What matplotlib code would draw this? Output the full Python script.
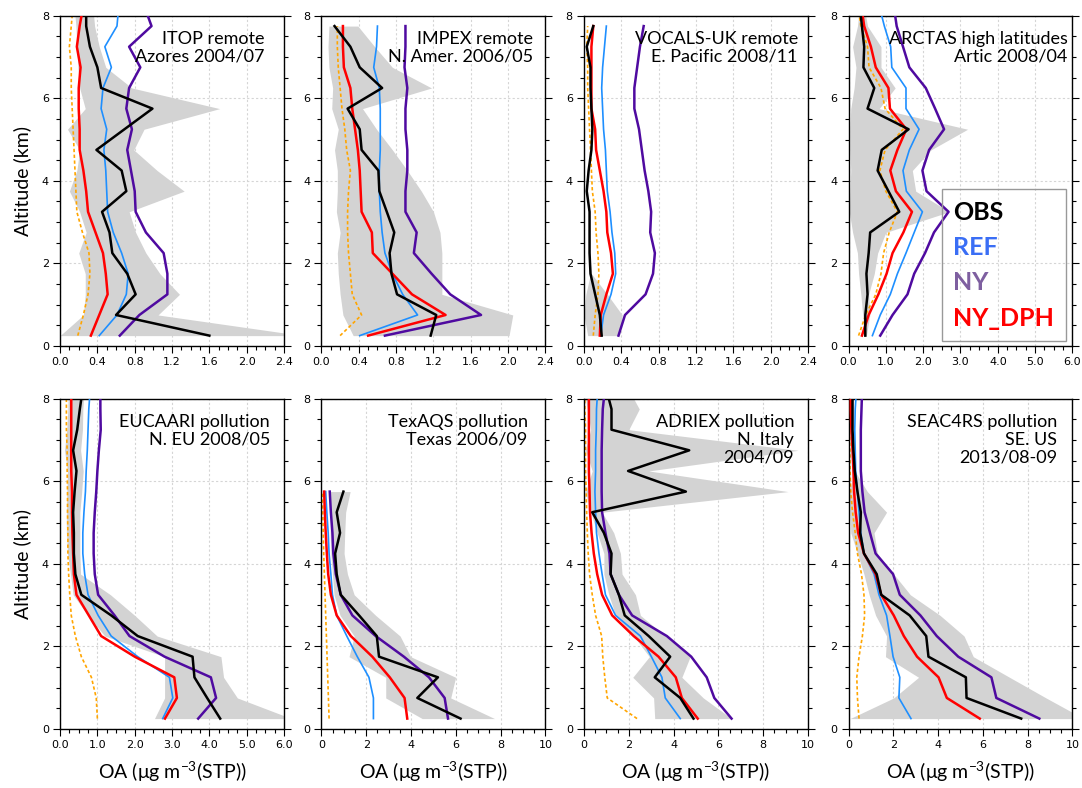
"""OA vertical profiles: observations vs. model runs for 8 field campaigns."""

import matplotlib
matplotlib.use("Agg")
import matplotlib.pyplot as plt
from matplotlib.patches import Rectangle
from matplotlib.ticker import MultipleLocator, FormatStrFormatter

plt.rcParams.update({"font.family": ["DejaVu Sans"], "font.size": 8,
                     "mathtext.fontset": "custom", "mathtext.rm": "Lato",
                     "mathtext.it": "Lato:italic", "mathtext.bf": "Lato:bold",
                     "mathtext.default": "regular"})
LABEL_FONT = ["Lato", "DejaVu Sans"]

# altitude bin centres (km)
ALT = [0.25, 0.75, 1.25, 1.75, 2.25, 2.75, 3.25, 3.75,
       4.25, 4.75, 5.25, 5.75, 6.25, 6.75, 7.25, 7.75]
ALT_TOP = ALT + [8.25]
ALT_TEX = ALT[:12]

# ---- ITOP remote, Azores 2004/07
itop_obs = [1.60, 0.60, 0.81, 0.72, 0.56, 0.53, 0.45, 0.71, 0.66, 0.39, 0.69, 0.99, 0.44, 0.40, 0.32, 0.28, 0.28]
itop_lo = [0.00, 0.25, 0.27, 0.27, 0.20, 0.28, 0.21, 0.10, 0.18, 0.21, 0.08, 0.27, 0.21, 0.19, 0.18, 0.17, 0.15]
itop_hi = [2.60, 1.05, 1.28, 1.07, 0.92, 0.81, 0.74, 1.33, 1.04, 0.79, 0.90, 1.71, 0.77, 0.49, 0.42, 0.37, 0.35]
itop_ref = [0.42, 0.61, 0.71, 0.73, 0.66, 0.57, 0.51, 0.50, 0.49, 0.47, 0.50, 0.44, 0.46, 0.55, 0.48, 0.61, 0.63]
itop_ny = [0.64, 0.85, 1.15, 1.15, 1.11, 0.92, 0.81, 0.80, 0.76, 0.72, 0.77, 0.71, 0.74, 0.86, 0.74, 0.98, 0.90]
itop_dph = [0.33, 0.42, 0.51, 0.49, 0.46, 0.38, 0.30, 0.28, 0.25, 0.21, 0.21, 0.20, 0.20, 0.22, 0.18, 0.21, 0.25]
itop_nosoa = [0.19, 0.25, 0.30, 0.32, 0.31, 0.24, 0.18, 0.17, 0.16, 0.15, 0.14, 0.13, 0.12, 0.12, 0.10, 0.12, 0.14]

# ---- IMPEX remote, N. Amer. 2006/05
impex_obs = [1.17, 1.23, 0.81, 0.75, 0.73, 0.78, 0.70, 0.62, 0.61, 0.43, 0.41, 0.28, 0.65, 0.41, 0.31, 0.14]
impex_lo = [0.34, 0.23, 0.20, 0.18, 0.17, 0.20, 0.16, 0.17, 0.17, 0.14, 0.18, 0.11, 0.12, 0.08, 0.07, 0.08]
impex_hi = [2.01, 2.05, 1.29, 1.29, 1.29, 1.27, 1.20, 1.07, 0.92, 0.76, 0.59, 0.44, 1.18, 0.76, 0.57, 0.39]
impex_ref = [0.41, 1.03, 0.87, 0.76, 0.68, 0.65, 0.63, 0.62, 0.62, 0.63, 0.63, 0.63, 0.62, 0.56, 0.59, 0.60]
impex_ny = [0.68, 1.71, 1.38, 1.18, 0.99, 1.02, 0.90, 0.90, 0.92, 0.92, 0.90, 0.90, 0.92, 0.89, 0.90, 0.90]
impex_dph = [0.50, 1.33, 0.97, 0.76, 0.55, 0.54, 0.43, 0.42, 0.41, 0.39, 0.36, 0.33, 0.31, 0.24, 0.23, 0.23]
impex_nosoa = [0.20, 0.43, 0.33, 0.31, 0.29, 0.28, 0.28, 0.29, 0.31, 0.27, 0.25, 0.22, 0.20, 0.18, 0.17, 0.17]

# ---- VOCALS-UK remote, E. Pacific 2008/11
vocals_obs = [0.19, 0.17, 0.12, 0.07, 0.06, 0.06, 0.06, 0.03, 0.05, 0.08, 0.09, 0.08, 0.07, 0.07, 0.03, 0.10]
vocals_lo = [0.04, 0.00, 0.02, 0.07, 0.06, 0.06, 0.06, 0.03, 0.05, 0.08, 0.09, 0.08, 0.07, 0.07, 0.03, 0.10]
vocals_hi = [0.38, 0.41, 0.25, 0.08, 0.06, 0.06, 0.06, 0.03, 0.05, 0.08, 0.09, 0.08, 0.07, 0.07, 0.03, 0.10]
vocals_ref = [0.18, 0.21, 0.29, 0.34, 0.33, 0.30, 0.28, 0.25, 0.24, 0.23, 0.21, 0.20, 0.19, 0.20, 0.22, 0.24]
vocals_ny = [0.37, 0.44, 0.66, 0.74, 0.76, 0.71, 0.72, 0.69, 0.65, 0.62, 0.59, 0.54, 0.54, 0.57, 0.60, 0.64]
vocals_dph = [0.17, 0.18, 0.24, 0.31, 0.29, 0.25, 0.24, 0.21, 0.17, 0.13, 0.12, 0.08, 0.08, 0.08, 0.08, 0.10]
vocals_nosoa = [0.10, 0.12, 0.15, 0.16, 0.15, 0.13, 0.12, 0.09, 0.08, 0.07, 0.06, 0.05, 0.04, 0.04, 0.03, 0.04]

# ---- ARCTAS high latitudes, Artic 2008/04
arctas_obs = [0.45, 0.45, 0.51, 0.48, 0.54, 0.58, 1.36, 1.07, 0.78, 0.89, 1.61, 0.51, 0.69, 0.40, 0.42, 0.36, 0.30]
arctas_lo = [0.42, 0.38, 0.33, 0.27, 0.24, 0.11, 0.02, 0.04, 0.06, 0.04, 0.04, 0.06, 0.15, 0.20, 0.11, 0.24, 0.30]
arctas_hi = [0.48, 0.57, 0.54, 0.69, 0.78, 1.00, 2.70, 1.80, 1.71, 2.21, 3.19, 0.82, 1.25, 0.87, 0.87, 0.51, 0.41]
arctas_ref = [0.64, 0.85, 1.12, 1.31, 1.54, 1.76, 1.98, 1.55, 1.46, 1.63, 1.89, 1.54, 1.54, 1.16, 1.13, 0.96, 0.82]
arctas_ny = [0.85, 1.18, 1.58, 1.76, 2.05, 2.29, 2.68, 2.09, 1.98, 2.16, 2.56, 2.32, 2.07, 1.63, 1.46, 1.29, 1.21]
arctas_dph = [0.36, 0.54, 0.80, 1.02, 1.18, 1.47, 1.70, 1.27, 1.12, 1.31, 1.55, 1.11, 1.07, 0.73, 0.60, 0.42, 0.34]
arctas_nosoa = [0.27, 0.46, 0.73, 0.87, 0.94, 1.09, 1.31, 1.00, 0.84, 0.98, 1.46, 0.98, 0.87, 0.55, 0.51, 0.33, 0.25]

# ---- EUCAARI pollution, N. EU 2008/05
eucaari_obs = [4.29, 3.94, 3.60, 3.55, 2.08, 1.37, 0.57, 0.41, 0.37, 0.37, 0.35, 0.39, 0.44, 0.35, 0.46, 0.53, 0.61]
eucaari_lo = [2.53, 2.80, 2.80, 2.80, 1.20, 0.75, 0.35, 0.28, 0.20, 0.17, 0.17, 0.18, 0.20, 0.12, 0.18, 0.21, 0.22]
eucaari_hi = [6.20, 4.75, 4.38, 4.31, 2.60, 2.00, 1.35, 0.55, 0.53, 0.53, 0.53, 0.58, 0.62, 0.55, 0.60, 0.61, 0.65]
eucaari_ref = [2.75, 3.02, 2.93, 2.08, 1.37, 1.02, 0.75, 0.66, 0.61, 0.61, 0.64, 0.68, 0.70, 0.73, 0.75, 0.77, 0.81]
eucaari_ny = [3.70, 4.18, 4.04, 2.80, 1.86, 1.46, 1.02, 0.93, 0.90, 0.90, 0.93, 0.97, 1.00, 1.04, 1.09, 1.08, 1.08]
eucaari_dph = [2.81, 3.13, 3.06, 2.00, 1.10, 0.77, 0.44, 0.37, 0.35, 0.33, 0.32, 0.32, 0.30, 0.30, 0.30, 0.30, 0.30]
eucaari_nosoa = [1.00, 0.97, 0.84, 0.57, 0.41, 0.30, 0.26, 0.23, 0.21, 0.21, 0.20, 0.20, 0.19, 0.19, 0.17, 0.17, 0.17]

# ---- TexAQS pollution, Texas 2006/09 (profiles stop at 5.75 km)
texaqs_obs = [6.21, 4.28, 5.20, 2.57, 2.47, 1.68, 0.86, 0.68, 0.61, 0.83, 0.68, 0.98]
texaqs_lo = [4.50, 2.87, 2.87, 1.23, 1.46, 0.83, 0.56, 0.49, 0.42, 0.39, 0.39, 0.39]
texaqs_hi = [7.73, 5.77, 5.99, 3.98, 3.51, 2.42, 1.46, 1.16, 1.01, 1.04, 1.08, 1.28]
texaqs_ref = [2.32, 2.32, 2.12, 1.60, 1.13, 0.68, 0.49, 0.42, 0.34, 0.30, 0.24, 0.19]
texaqs_ny = [5.65, 5.50, 4.80, 3.68, 2.42, 1.38, 0.86, 0.64, 0.53, 0.49, 0.42, 0.37]
texaqs_dph = [3.83, 3.71, 3.05, 2.27, 1.31, 0.68, 0.42, 0.30, 0.24, 0.19, 0.15, 0.12]
texaqs_nosoa = [0.34, 0.31, 0.28, 0.25, 0.22, 0.19, 0.16, 0.13, 0.10, 0.08, 0.06, 0.04]

# ---- ADRIEX pollution, N. Italy 2004/09
adriex_obs = [4.89, 4.30, 3.16, 3.85, 2.89, 1.82, 1.56, 1.19, 1.23, 0.89, 0.37, 4.55, 1.97, 4.70, 1.23, 1.23, 0.99]
adriex_lo = [3.16, 3.11, 2.18, 2.92, 2.22, 1.41, 1.11, 0.89, 0.89, 0.59, 0.30, 0.07, 0.37, 0.07, 0.30, 0.15, 0.00]
adriex_hi = [6.59, 5.33, 4.37, 4.74, 3.63, 2.52, 2.30, 1.70, 1.63, 1.33, 0.81, 9.11, 2.89, 9.56, 2.00, 2.47, 1.97]
adriex_ref = [4.30, 3.63, 3.48, 3.01, 2.52, 1.41, 0.96, 0.81, 0.67, 0.56, 0.52, 0.49, 0.52, 0.52, 0.55, 0.56, 0.62]
adriex_ny = [6.59, 5.82, 5.48, 4.79, 3.70, 2.15, 1.56, 1.19, 1.14, 0.96, 0.81, 0.79, 0.79, 0.79, 0.81, 0.84, 0.94]
adriex_dph = [5.08, 4.37, 4.10, 3.33, 2.22, 1.26, 0.81, 0.59, 0.44, 0.34, 0.27, 0.25, 0.22, 0.22, 0.22, 0.22, 0.22]
adriex_nosoa = [2.37, 1.04, 0.93, 0.84, 0.79, 0.52, 0.37, 0.25, 0.19, 0.15, 0.12, 0.10, 0.07, 0.07, 0.07, 0.04, 0.04]

# ---- SEAC4RS pollution, SE. US 2013/08-09
seac4rs_obs = [7.71, 5.27, 5.24, 3.57, 3.47, 2.73, 1.46, 1.26, 0.69, 0.52, 0.55, 0.40, 0.28, 0.22, 0.18, 0.18, 0.18]
seac4rs_lo = [0.07, 2.02, 3.13, 1.65, 1.70, 1.21, 0.92, 0.69, 0.40, 0.10, 0.07, 0.03, 0.28, 0.22, 0.18, 0.18, 0.18]
seac4rs_hi = [10.5, 8.82, 7.19, 5.57, 5.16, 4.09, 2.76, 2.02, 1.29, 1.14, 1.70, 0.84, 0.28, 0.22, 0.18, 0.18, 0.18]
seac4rs_ref = [2.79, 2.25, 2.29, 1.99, 1.85, 1.70, 1.36, 1.14, 0.69, 0.55, 0.47, 0.40, 0.32, 0.30, 0.28, 0.30, 0.36]
seac4rs_ny = [8.52, 6.60, 6.38, 4.90, 3.94, 3.21, 2.29, 1.99, 1.21, 0.96, 0.72, 0.62, 0.55, 0.55, 0.55, 0.58, 0.61]
seac4rs_dph = [5.86, 4.39, 4.02, 3.06, 2.47, 2.02, 1.46, 1.21, 0.69, 0.43, 0.32, 0.25, 0.22, 0.18, 0.13, 0.10, 0.10]
seac4rs_nosoa = [0.47, 0.40, 0.37, 0.47, 0.62, 0.72, 0.69, 0.58, 0.40, 0.30, 0.18, 0.10, 0.07, 0.06, 0.04, 0.04, 0.04]

TITLES = ["ITOP remote\nAzores 2004/07", "IMPEX remote\nN. Amer. 2006/05",
          "VOCALS-UK remote\nE. Pacific 2008/11", "ARCTAS high latitudes\nArtic 2008/04",
          "EUCAARI pollution\nN. EU 2008/05", "TexAQS pollution\nTexas 2006/09",
          "ADRIEX pollution\nN. Italy\n2004/09", "SEAC4RS pollution\nSE. US\n2013/08-09"]

LEGEND_NAMES = ["OBS", "REF", "NY", "NY_DPH"]
LEGEND_COLORS = ["black", "#3a6ef5", "#7e5fa0", "#ff0000"]

PANELS = [
    (ALT_TOP, itop_obs, itop_lo, itop_hi, itop_ref, itop_ny, itop_dph, itop_nosoa),
    (ALT, impex_obs, impex_lo, impex_hi, impex_ref, impex_ny, impex_dph, impex_nosoa),
    (ALT, vocals_obs, vocals_lo, vocals_hi, vocals_ref, vocals_ny, vocals_dph, vocals_nosoa),
    (ALT_TOP, arctas_obs, arctas_lo, arctas_hi, arctas_ref, arctas_ny, arctas_dph, arctas_nosoa),
    (ALT_TOP, eucaari_obs, eucaari_lo, eucaari_hi, eucaari_ref, eucaari_ny, eucaari_dph, eucaari_nosoa),
    (ALT_TEX, texaqs_obs, texaqs_lo, texaqs_hi, texaqs_ref, texaqs_ny, texaqs_dph, texaqs_nosoa),
    (ALT_TOP, adriex_obs, adriex_lo, adriex_hi, adriex_ref, adriex_ny, adriex_dph, adriex_nosoa),
    (ALT_TOP, seac4rs_obs, seac4rs_lo, seac4rs_hi, seac4rs_ref, seac4rs_ny, seac4rs_dph, seac4rs_nosoa),
]

# x axis setup per panel: (xmax, major, minor, label format)
XAXES = [(2.4, 0.4, 0.1, "%.1f"), (2.4, 0.4, 0.1, "%.1f"), (2.4, 0.4, 0.1, "%.1f"),
         (6.0, 1.0, 0.25, "%.1f"), (6.0, 1.0, 0.25, "%.1f"), (10, 2, 0.5, "%d"),
         (10, 2, 0.5, "%d"), (10, 2, 0.5, "%d")]
TITLE_X = [0.915, 0.946, 0.955, 0.978, 0.937, 0.92, 0.938, 0.933]

fig = plt.figure(figsize=(10.82, 7.88), dpi=100)
lefts = [0.0555, 0.2971, 0.5397, 0.7842]
bottoms = [0.561, 0.075]
W, H = 0.207, 0.419

for i, (alt, obs, lo, hi, ref, ny, dph, nosoa) in enumerate(PANELS):
    row, col = divmod(i, 4)
    ax = fig.add_axes([lefts[col], bottoms[row], W, H])
    xmax, major, minor, fmt = XAXES[i]

    ax.fill_betweenx(alt, lo, hi, color="#d3d3d3", lw=0, zorder=1)
    ax.plot(nosoa, alt, color="#ffa500", lw=1.2, ls=(0, (2, 1.5)), zorder=2)
    ax.plot(ref, alt, color="#1e8fff", lw=1.2, zorder=3)
    ax.plot(ny, alt, color="#4f0aa0", lw=1.8, zorder=3)
    ax.plot(dph, alt, color="#ff0000", lw=1.8, zorder=3)
    ax.plot(obs, alt, color="black", lw=1.8, zorder=4)

    ax.set_xlim(0, xmax)
    ax.set_ylim(0, 8)
    ax.xaxis.set_major_locator(MultipleLocator(major))
    ax.xaxis.set_minor_locator(MultipleLocator(minor))
    ax.xaxis.set_major_formatter(FormatStrFormatter(fmt))
    ax.yaxis.set_major_locator(MultipleLocator(2))
    ax.yaxis.set_minor_locator(MultipleLocator(0.5))
    ax.tick_params(which="both", direction="out", left=True, right=True, top=False,
                   labelsize=8, width=0.8, pad=3)
    ax.tick_params(which="major", length=5)
    ax.tick_params(which="minor", length=3)
    for sp in ax.spines.values():
        sp.set_linewidth(1.0)
    ax.grid(True, which="major", color="#d5d5d5", ls=(0, (2, 2)), lw=0.8)
    ax.set_axisbelow(True)

    ax.text(TITLE_X[i], 0.955, TITLES[i], transform=ax.transAxes, ha="right", va="top",
            fontsize=13, family=LABEL_FONT, linespacing=1.15, zorder=6)

    if col == 0:
        ax.set_ylabel("Altitude (km)", fontsize=14, family=LABEL_FONT, labelpad=8)
    if row == 1:
        ax.set_xlabel("OA (μg m$^{-3}$(STP))", fontsize=14, family=LABEL_FONT, labelpad=7)

    if i == 3:
        ax.add_patch(Rectangle((0.418, 0.015), 0.555, 0.46, transform=ax.transAxes,
                               fill=False, ec="#999999", lw=1.0, zorder=7))
        ys = [0.403, 0.297, 0.191, 0.082]
        for name, c, y in zip(LEGEND_NAMES, LEGEND_COLORS, ys):
            ax.text(0.468, y, name, transform=ax.transAxes, ha="left", va="center",
                    color=c, fontsize=18, fontweight="bold",
                    family=LABEL_FONT, zorder=8)

fig.savefig("out.png", dpi=100)
